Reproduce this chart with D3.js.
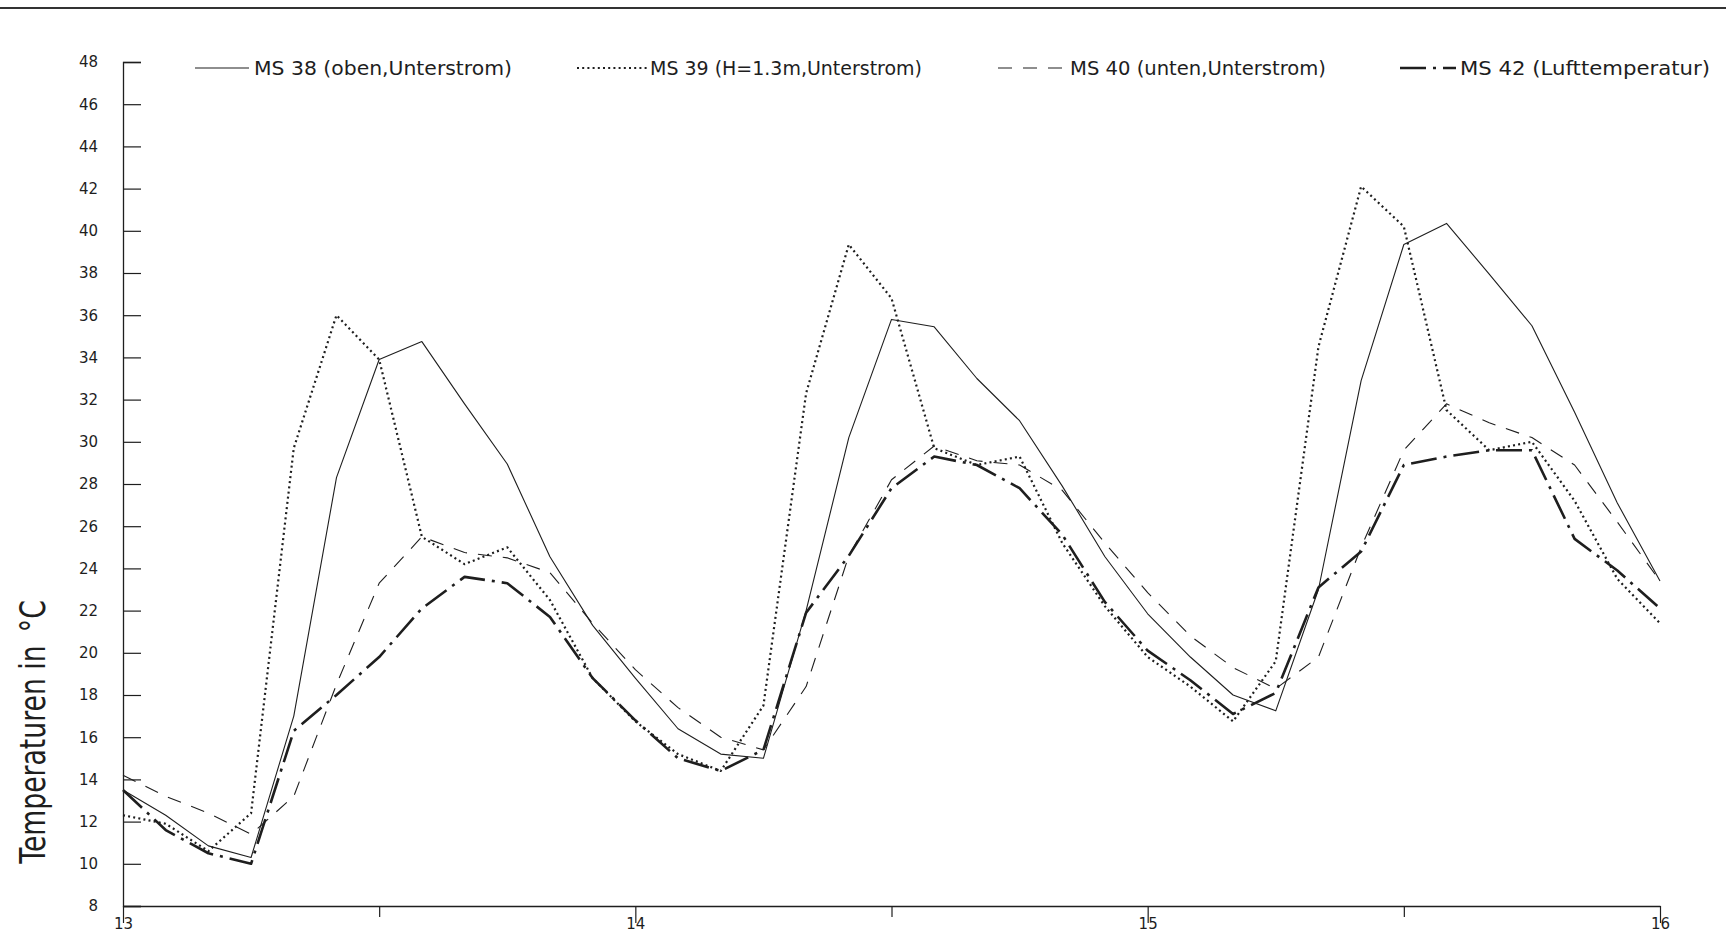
<!DOCTYPE html>
<html>
<head>
<meta charset="utf-8">
<script src="https://cdn.jsdelivr.net/npm/d3@7"></script>
<style>
  html, body { margin: 0; padding: 0; background: #fff; }
  svg { display: block; }
  text { font-family: "DejaVu Sans", sans-serif; fill: #1e1e1e; }
</style>
</head>
<body>
<svg id="chart" width="1726" height="948"></svg>
<script>
// hours since day 13, 0:00 (2 h steps up to day 16)
const hours = [0, 2, 4, 6, 8, 10, 12, 14, 16, 18, 20, 22,
               24, 26, 28, 30, 32, 34, 36, 38, 40, 42, 44, 46,
               48, 50, 52, 54, 56, 58, 60, 62, 64, 66, 68, 70, 72];

// MS 38 (oben, Unterstrom)
const ms38 = [13.5, 12.3, 10.85, 10.3, 17.0, 28.3, 33.9, 34.75, 31.8, 28.95, 24.55, 21.3,
              18.8, 16.4, 15.2, 15.0, 22.0, 30.2, 35.8, 35.45, 33.0, 31.0, 27.9, 24.55,
              21.85, 19.8, 18.0, 17.25, 23.0, 32.9, 39.35, 40.35, 37.95, 35.5, 31.4, 27.1, 23.4];
// MS 39 (H=1.3m, Unterstrom)
const ms39 = [12.3, 11.9, 10.6, 12.4, 29.7, 36.0, 33.9, 25.5, 24.2, 25.0, 22.5, 18.8,
              16.75, 15.2, 14.4, 17.5, 32.3, 39.35, 36.8, 29.7, 28.9, 29.3, 25.2, 22.2,
              19.8, 18.4, 16.75, 19.6, 34.5, 42.1, 40.2, 31.5, 29.6, 30.0, 27.2, 23.5, 21.4];
// MS 40 (unten, Unterstrom)
const ms40 = [14.2, 13.2, 12.4, 11.4, 13.2, 18.5, 23.3, 25.5, 24.75, 24.5, 23.8, 21.4,
              19.2, 17.4, 16.0, 15.4, 18.4, 24.6, 28.2, 29.8, 29.1, 28.9, 27.7, 25.2,
              22.85, 20.8, 19.3, 18.3, 19.8, 25.0, 29.6, 31.8, 30.9, 30.2, 28.9, 26.2, 23.4];
// MS 42 (Lufttemperatur)
const ms42 = [13.5, 11.6, 10.5, 10.0, 16.3, 18.0, 19.8, 22.1, 23.6, 23.3, 21.7, 18.8,
              16.8, 15.0, 14.4, 15.4, 21.9, 24.6, 27.8, 29.3, 28.9, 27.8, 25.6, 22.4,
              20.1, 18.7, 17.1, 18.1, 23.1, 24.8, 28.9, 29.3, 29.6, 29.6, 25.4, 23.9, 22.1];

const seriesNames = ['MS 38 (oben,Unterstrom)', 'MS 39 (H=1.3m,Unterstrom)',
                     'MS 40 (unten,Unterstrom)', 'MS 42 (Lufttemperatur)'];
const yTicks = [8, 10, 12, 14, 16, 18, 20, 22, 24, 26, 28, 30, 32, 34, 36, 38, 40, 42, 44, 46, 48];
const xTicks = [13, 13.5, 14, 14.5, 15, 15.5, 16];
const xLabels = [13, 14, 15, 16];

const svg = d3.select('#chart');
const x = d3.scaleLinear().domain([13, 16]).range([123, 1660]);
const y = d3.scaleLinear().domain([8, 48]).range([906, 62]);
const ink = '#1e1e1e';

// rule across the top of the page
svg.append('line')
    .attr('x1', 0).attr('x2', 1726).attr('y1', 8).attr('y2', 8)
    .attr('stroke', '#333').attr('stroke-width', 1.8);

// y axis, ticks pointing inwards
const gy = svg.append('g')
    .attr('transform', `translate(${x(13)},0)`)
    .call(d3.axisRight(y).tickValues(yTicks).tickSize(18).tickFormat(''));
gy.select('.domain').attr('stroke', ink).attr('stroke-width', 1.3);
gy.selectAll('.tick line').attr('stroke', ink).attr('stroke-width', 1.2);

svg.append('g').selectAll('text')
    .data(yTicks)
    .enter()
    .append('text')
    .attr('x', x(13) - 25)
    .attr('y', (d) => y(d))
    .attr('dy', '0.36em')
    .attr('text-anchor', 'end')
    .attr('font-size', 15)
    .text((d) => d);

// x axis, ticks pointing down
const gx = svg.append('g')
    .attr('transform', `translate(0,${y(8)})`)
    .call(d3.axisBottom(x).tickValues(xTicks).tickSizeOuter(0)
        .tickFormat((d) => (xLabels.includes(d) ? d : '')));
gx.select('.domain').attr('stroke', ink).attr('stroke-width', 1.3);
gx.selectAll('.tick line')
    .attr('stroke', ink).attr('stroke-width', 1.2)
    .attr('y2', (d) => (Number.isInteger(d) ? 17 : 11));
gx.selectAll('.tick text')
    .attr('y', 12).attr('dy', '0.71em')
    .attr('font-size', 15)
    .attr('font-family', '"DejaVu Sans Condensed", "DejaVu Sans", sans-serif')
    .attr('fill', ink);

// y title
const title = svg.append('text')
    .attr('transform', 'translate(45,732) rotate(-90) scale(0.74,1)')
    .attr('text-anchor', 'middle')
    .attr('font-size', 36)
    .attr('fill', '#3a3a3a');
title.append('tspan').text('Temperaturen in');
title.append('tspan').attr('dx', 18).text('°C');

// series
const styles = [
    { width: 1.1, dash: null },
    { width: 2.2, dash: '2,3.2' },
    { width: 1.1, dash: '14,11' },
    { width: 2.6, dash: '26,7,3,7' }
];
const series = [ms38, ms39, ms40, ms42];

const line = d3.line()
    .x((d, i) => x(13 + hours[i] / 24))
    .y((d) => y(d));

const drawOrder = [2, 0, 1, 3];
svg.append('g').selectAll('path')
    .data(drawOrder)
    .enter()
    .append('path')
    .attr('d', (k) => line(series[k]))
    .attr('fill', 'none')
    .attr('stroke', ink)
    .attr('stroke-width', (k) => styles[k].width)
    .attr('stroke-dasharray', (k) => styles[k].dash)
    .attr('stroke-linejoin', 'round');

// legend
const legendPos = [
    { x1: 195, x2: 249, tx: 254, w: 258 },
    { x1: 577, x2: 649, tx: 650, w: 272 },
    { x1: 998, x2: 1066, tx: 1070, w: 256 },
    { x1: 1400, x2: 1456, tx: 1460, w: 250 }
];
const legendY = 68;
const leg = svg.append('g').selectAll('g')
    .data(seriesNames)
    .enter()
    .append('g');
leg.append('line')
    .attr('x1', (d, i) => legendPos[i].x1)
    .attr('x2', (d, i) => legendPos[i].x2)
    .attr('y1', legendY).attr('y2', legendY)
    .attr('stroke', ink)
    .attr('stroke-width', (d, i) => styles[i].width)
    .attr('stroke-dasharray', (d, i) => styles[i].dash);
leg.append('text')
    .attr('x', (d, i) => legendPos[i].tx)
    .attr('y', legendY)
    .attr('dy', '0.36em')
    .attr('font-size', 20)
    .attr('textLength', (d, i) => legendPos[i].w)
    .attr('lengthAdjust', 'spacingAndGlyphs')
    .text((d) => d);
</script>
</body>
</html>
